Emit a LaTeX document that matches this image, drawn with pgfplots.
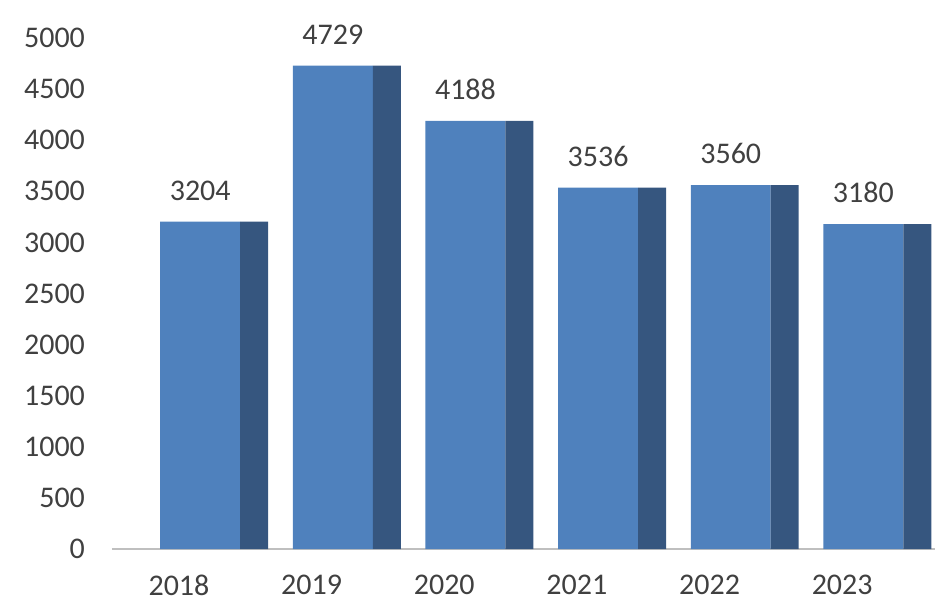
\documentclass[border=0pt]{standalone}
\usepackage{fontspec}
\setmainfont{Carlito}
\usepackage{pgfplots}
\pgfplotsset{compat=1.18}
\definecolor{frontblue}{HTML}{4F81BD}
\definecolor{sideblue}{HTML}{36567F}
\definecolor{txtgray}{HTML}{404040}
\definecolor{basegray}{HTML}{BFBFBF}
\begin{document}
\begin{tikzpicture}
\begin{axis}[
  at={(0,0)}, anchor=south west,
  scale only axis,
  width=411.5pt, height=255.5pt,
  xmin=-0.505, xmax=5.70,
  ymin=0, ymax=5000,
  ytick={0,500,...,5000},
  xtick={0,1,2,3,4,5},
  xticklabels={2018,2019,2020,2021,2022,2023},
  separate axis lines,
  axis x line*=bottom,
  axis y line*=left,
  x axis line style={draw=basegray, line width=0.8pt, -},
  y axis line style={draw=none},
  major tick length=0pt,
  tick label style={font=\fontsize{15}{18}\selectfont, text=txtgray},
  yticklabel style={xshift=-10pt},
  xticklabel style={yshift=-9.5pt},
  /pgf/number format/assume math mode=true,
  /pgf/number format/1000 sep={},
  scaled y ticks=false,
  ybar,
]
\addplot[fill=frontblue, draw=none, bar width=0.603, bar shift=0.16,
  nodes near coords,
  every node near coord/.append style={font=\fontsize{15}{18}\selectfont, text=txtgray, yshift=7pt}]
  coordinates {(0,3204) (1,4729) (2,4188) (3,3536) (4,3560) (5,3180)};
\addplot[fill=sideblue, draw=none, bar width=0.211, bar shift=0.567]
  coordinates {(0,3204) (1,4729) (2,4188) (3,3536) (4,3560) (5,3180)};
\end{axis}
\path[use as bounding box] (-56pt,-32.5pt) rectangle (416.5pt,274.5pt);
\end{tikzpicture}
\end{document}
